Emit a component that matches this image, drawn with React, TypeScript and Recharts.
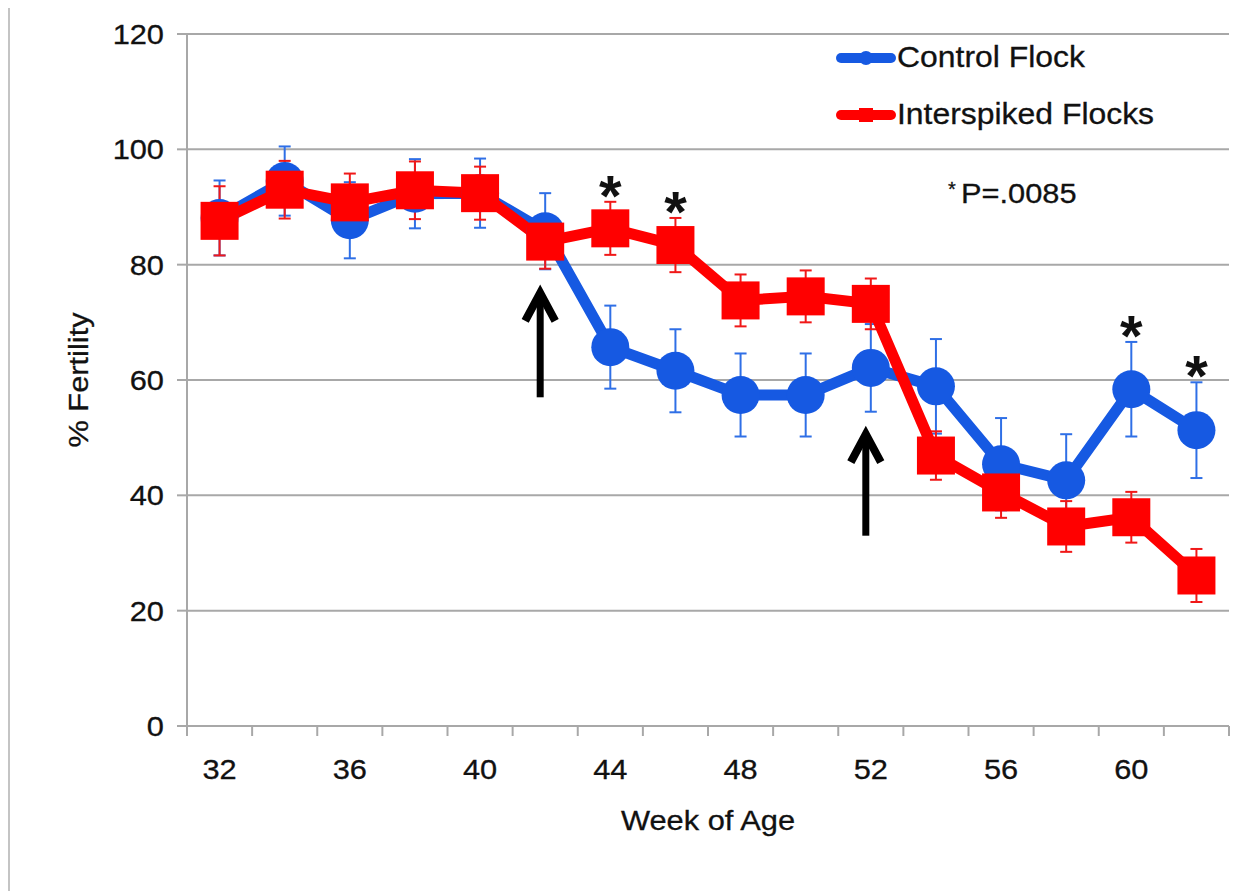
import {
  CartesianGrid,
  ErrorBar,
  Legend,
  Line,
  LineChart,
  ReferenceDot,
  ReferenceLine,
  XAxis,
  YAxis,
} from "recharts";

const weeks = [32, 34, 36, 38, 40, 42, 44, 46, 48, 50, 52, 54, 56, 58, 60, 62];
const controlFlock = [88.1, 94.5, 87.7, 92.3, 92.4, 85.8, 65.7, 61.6, 57.4, 57.4, 62.1, 58.9, 45.4, 42.6, 58.4, 51.3];
const controlSem = [6.5, 6, 6.6, 6, 6, 6.6, 7.2, 7.2, 7.2, 7.2, 7.6, 8.2, 8, 8, 8.2, 8.3];
const interspikedFlocks = [87.6, 93, 90.8, 92.9, 92.4, 84, 86.3, 83.4, 73.8, 74.5, 73.2, 46.9, 40.5, 34.6, 36.2, 26.1];
const interspikedSem = [6, 5, 5, 5, 4.6, 4.7, 4.6, 4.7, 4.5, 4.5, 4.4, 4.2, 4.4, 4.4, 4.4, 4.6];

const weekLabels = [32, 36, 40, 44, 48, 52, 56, 60];
const fertilityTicks = [0, 20, 40, 60, 80, 100, 120];

// weeks where the difference is significant, marked with an asterisk
const controlStars = [60, 62];
const interspikedStars = [44, 46];

// spiking events: arrow from / to (in % fertility units)
const spikeArrows = [
  { week: 42, from: 57, to: 76.5 },
  { week: 52, from: 33, to: 52 },
];

const FONT = '"Liberation Sans", Arial, Helvetica, sans-serif';
const INK = "#111";
const BLUE = "#1659e2";
const BLUE_BAR = "#2f6fe6";
const RED = "#ff0000";
const RED_BAR = "#f01818";
const GRID = "#a8a8a8";
const TEXT_SIZE = 28;
const STRETCH = 1.1;

const rows = weeks.map((week, i) => ({
  week,
  control: controlFlock[i],
  controlErr: controlSem[i],
  spiked: interspikedFlocks[i],
  spikedErr: interspikedSem[i],
}));

// category boundaries get tick marks, labels sit on every other week
const boundaries = [...weeks.map((w) => w - 1), weeks[weeks.length - 1] + 1];
const xTicks = [...new Set([...boundaries, ...weekLabels])].sort((a, b) => a - b);

// slightly wide Arial-style text
function WideText(props: any) {
  const { x, y, anchor = "middle", rotate = 0, size = TEXT_SIZE, baseline, children } = props;
  return (
    <text
      transform={`translate(${x} ${y}) rotate(${rotate}) scale(${STRETCH} 1)`}
      textAnchor={anchor}
      dominantBaseline={baseline}
      fontSize={size}
      fontFamily={FONT}
      fill={INK}
      stroke={INK}
      strokeWidth={0.3}
    >
      {children}
    </text>
  );
}

function renderWeekTick(props: any) {
  const { x, y, payload } = props;
  const v = payload.value;
  return (
    <g key={`t-${v}`}>
      {boundaries.includes(v) && (
        <line x1={x} x2={x} y1={y} y2={y + 10} stroke={GRID} strokeWidth={2} />
      )}
      {weekLabels.includes(v) && (
        <WideText x={x} y={y + 53}>
          {v}
        </WideText>
      )}
    </g>
  );
}

function renderFertilityTick(props: any) {
  const { x, y, payload } = props;
  return (
    <WideText key={`f-${payload.value}`} x={x} y={y} anchor="end" baseline="central">
      {payload.value}
    </WideText>
  );
}

function WeekTitle(props: any) {
  const { viewBox } = props;
  return (
    <WideText x={viewBox.x + viewBox.width / 2} y={viewBox.y + 104}>
      Week of Age
    </WideText>
  );
}

function FertilityTitle(props: any) {
  const { viewBox } = props;
  return (
    <WideText x={68} y={viewBox.y + viewBox.height / 2} rotate={-90} baseline="central">
      % Fertility
    </WideText>
  );
}

const controlDot = (props: any) => (
  <circle key={`c-${props.index}`} cx={props.cx} cy={props.cy} r={19} fill={BLUE} />
);

const spikedDot = (props: any) => (
  <rect
    key={`s-${props.index}`}
    x={props.cx - 19}
    y={props.cy - 19}
    width={38}
    height={38}
    fill={RED}
  />
);

const StarMark = (props: any) => (
  <text
    x={props.cx}
    y={props.cy + 14}
    textAnchor="middle"
    fontSize={58}
    fontWeight="bold"
    fontFamily={FONT}
    fill={INK}
  >
    *
  </text>
);

const UpArrow = (props: any) => {
  const { x1, y1, y2 } = props;
  const x = x1 - 5;
  const top = Math.min(y1, y2);
  const bottom = Math.max(y1, y2);
  const tip = top + 8;
  return (
    <g>
      <line x1={x} x2={x} y1={bottom} y2={tip + 4} stroke="#000" strokeWidth={7} />
      <polyline
        points={`${x - 15},${tip + 28} ${x},${tip} ${x + 15},${tip + 28}`}
        fill="none"
        stroke="#000"
        strokeWidth={8}
        strokeLinejoin="miter"
      />
    </g>
  );
};

function FlockLegend(props: any) {
  const { payload = [] } = props;
  const wide = { display: "inline-block", transform: `scaleX(${STRETCH})`, transformOrigin: "left center" };
  return (
    <div style={{ fontFamily: FONT, color: INK, fontSize: 29, WebkitTextStroke: `0.3px ${INK}` }}>
      {payload.map((entry: any) => (
        <div key={entry.value} style={{ display: "flex", alignItems: "center", height: 57 }}>
          <svg width={60} height={20} style={{ marginRight: 1 }}>
            <line x1={5} x2={55} y1={10} y2={10} stroke={entry.color} strokeWidth={10} strokeLinecap="round" />
            {entry.dataKey === "control" ? (
              <circle cx={30} cy={10} r={7} fill={entry.color} />
            ) : (
              <rect x={23} y={3} width={14} height={14} fill={entry.color} />
            )}
          </svg>
          <span style={wide}>{entry.value}</span>
        </div>
      ))}
      <div style={{ marginTop: 31, marginLeft: 112, display: "flex", alignItems: "center", height: 40, fontSize: TEXT_SIZE }}>
        <span style={{ fontSize: 20, marginRight: 5, marginTop: -10 }}>*</span>
        <span style={wide}>P=.0085</span>
      </div>
    </div>
  );
}

export default function App() {
  return (
    <div
      style={{
        position: "relative",
        width: 1239,
        height: 886,
        marginTop: -3,
        boxSizing: "border-box",
        border: "2px solid #c4c4c4",
        borderBottom: "none",
        background: "#fff",
      }}
    >
      <LineChart
        width={1235}
        height={870}
        data={rows}
        margin={{ top: 27, right: 16, left: 0, bottom: 41 }}
      >
        <CartesianGrid vertical={false} stroke={GRID} strokeWidth={2} />
        <XAxis
          dataKey="week"
          type="number"
          domain={[31, 63]}
          ticks={xTicks}
          interval={0}
          tick={renderWeekTick}
          tickLine={false}
          tickSize={0}
          tickMargin={0}
          axisLine={{ stroke: GRID, strokeWidth: 2 }}
          height={110}
          label={<WeekTitle />}
        />
        <YAxis
          domain={[0, 120]}
          ticks={fertilityTicks}
          interval={0}
          width={177}
          tickSize={10}
          tickMargin={13}
          tickLine={{ stroke: GRID, strokeWidth: 2 }}
          axisLine={{ stroke: GRID, strokeWidth: 2 }}
          tick={renderFertilityTick}
          label={<FertilityTitle />}
        />
        <Legend
          layout="vertical"
          align="center"
          verticalAlign="middle"
          content={<FlockLegend />}
          wrapperStyle={{ left: 826, top: 22, width: 400, height: 220 }}
        />
        <Line
          name="Control Flock"
          dataKey="control"
          stroke={BLUE}
          strokeWidth={11}
          dot={controlDot}
          activeDot={false}
          isAnimationActive={false}
        >
          <ErrorBar dataKey="controlErr" direction="y" width={6} stroke={BLUE_BAR} strokeWidth={2} isAnimationActive={false} />
        </Line>
        <Line
          name="Interspiked Flocks"
          dataKey="spiked"
          stroke={RED}
          strokeWidth={11}
          dot={spikedDot}
          activeDot={false}
          isAnimationActive={false}
        >
          <ErrorBar dataKey="spikedErr" direction="y" width={6} stroke={RED_BAR} strokeWidth={2} isAnimationActive={false} />
        </Line>
        {spikeArrows.map((a) => (
          <ReferenceLine
            key={`arrow-${a.week}`}
            segment={[
              { x: a.week, y: a.from },
              { x: a.week, y: a.to },
            ]}
            shape={UpArrow}
          />
        ))}
        {interspikedStars.map((w) => {
          const i = weeks.indexOf(w);
          return (
            <ReferenceDot
              key={`ss-${w}`}
              x={w}
              y={interspikedFlocks[i] + interspikedSem[i]}
              shape={StarMark}
            />
          );
        })}
        {controlStars.map((w) => {
          const i = weeks.indexOf(w);
          return (
            <ReferenceDot
              key={`cs-${w}`}
              x={w}
              y={controlFlock[i] + controlSem[i]}
              shape={StarMark}
            />
          );
        })}
      </LineChart>
    </div>
  );
}
